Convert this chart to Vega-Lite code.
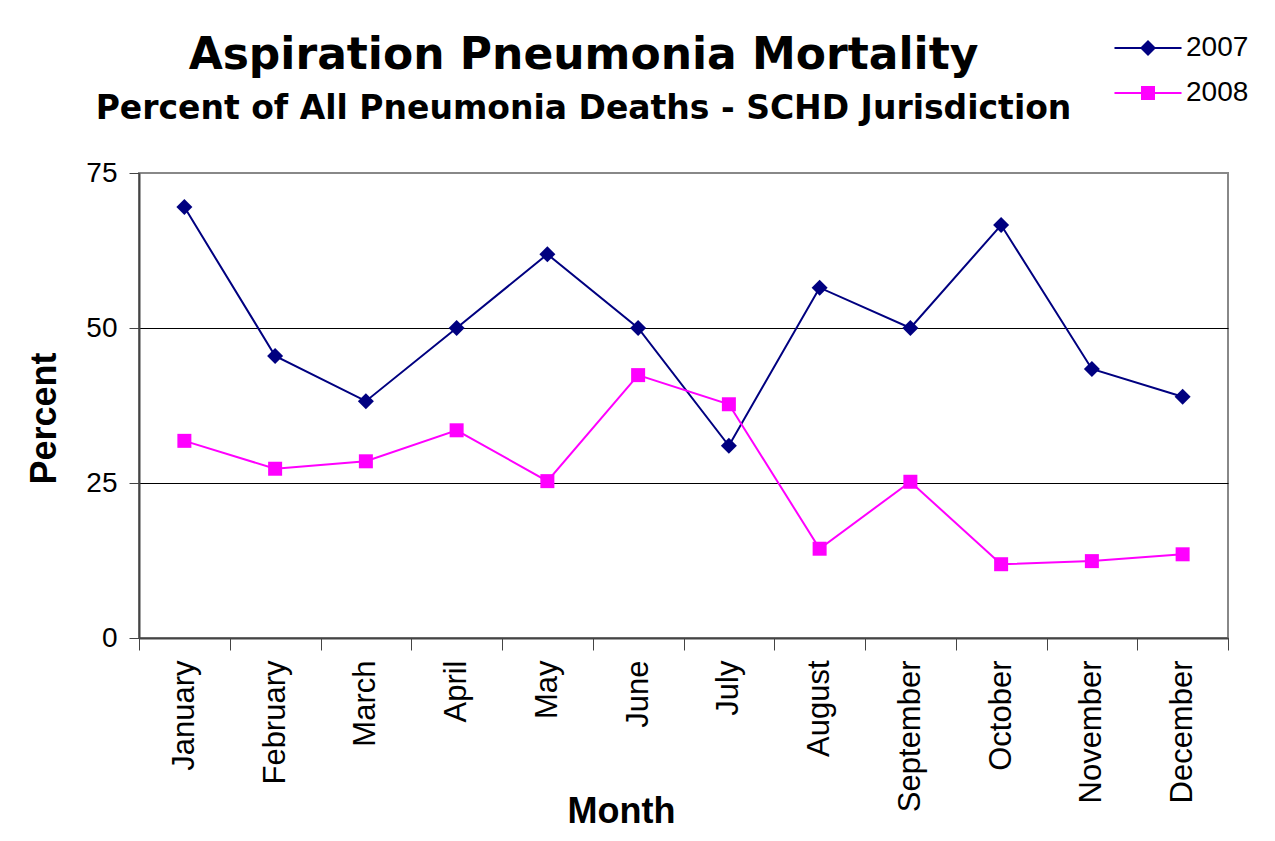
{
  "$schema": "https://vega.github.io/schema/vega-lite/v6.json",
  "width": 1089,
  "height": 465,
  "autosize": {"type": "none"},
  "padding": {"left": 139, "top": 173, "right": 47, "bottom": 203},
  "background": "white",
  "title": {
    "text": "Aspiration Pneumonia Mortality",
    "subtitle": "Percent of All Pneumonia Deaths - SCHD Jurisdiction",
    "font": "DejaVu Sans",
    "fontSize": 44,
    "fontWeight": "bold",
    "color": "black",
    "subtitleFont": "DejaVu Sans",
    "subtitleFontSize": 33,
    "subtitleFontWeight": "bold",
    "subtitleColor": "black",
    "subtitlePadding": 15,
    "anchor": "middle",
    "frame": "group",
    "dx": -100,
    "offset": -92
  },
  "config": {
    "view": {"stroke": "#888888", "strokeWidth": 2},
    "axis": {"labelFont": "Liberation Sans", "titleFont": "Liberation Sans", "labelColor": "black", "titleColor": "black"}
  },
  "data": {
    "values": [
      {"month": "January", "year": "2007", "percent": 69.5},
      {"month": "February", "year": "2007", "percent": 45.5},
      {"month": "March", "year": "2007", "percent": 38.2},
      {"month": "April", "year": "2007", "percent": 50},
      {"month": "May", "year": "2007", "percent": 61.9},
      {"month": "June", "year": "2007", "percent": 50},
      {"month": "July", "year": "2007", "percent": 31},
      {"month": "August", "year": "2007", "percent": 56.5},
      {"month": "September", "year": "2007", "percent": 50},
      {"month": "October", "year": "2007", "percent": 66.6},
      {"month": "November", "year": "2007", "percent": 43.4},
      {"month": "December", "year": "2007", "percent": 38.9},
      {"month": "January", "year": "2008", "percent": 31.8},
      {"month": "February", "year": "2008", "percent": 27.3},
      {"month": "March", "year": "2008", "percent": 28.5},
      {"month": "April", "year": "2008", "percent": 33.5},
      {"month": "May", "year": "2008", "percent": 25.3},
      {"month": "June", "year": "2008", "percent": 42.4},
      {"month": "July", "year": "2008", "percent": 37.7},
      {"month": "August", "year": "2008", "percent": 14.4},
      {"month": "September", "year": "2008", "percent": 25.2},
      {"month": "October", "year": "2008", "percent": 11.9},
      {"month": "November", "year": "2008", "percent": 12.4},
      {"month": "December", "year": "2008", "percent": 13.5}
    ]
  },
  "encoding": {
    "x": {
      "field": "month",
      "type": "nominal",
      "sort": ["January","February","March","April","May","June","July","August","September","October","November","December"],
      "scale": {"paddingInner": 0, "paddingOuter": 0},
      "axis": {
        "title": "Month",
        "titleFontSize": 36,
        "titleFontWeight": "bold",
        "titleX": 482,
        "titleY": 184,
        "titleAlign": "center",
        "titleBaseline": "alphabetic",
        "labelAngle": -90,
        "labelFontSize": 31,
        "labelPadding": 10,
        "tickBand": "extent",
        "tickSize": 12,
        "tickColor": "#444444",
        "domainColor": "#444444",
        "domainWidth": 2,
        "grid": false
      }
    },
    "y": {
      "field": "percent",
      "type": "quantitative",
      "scale": {"domain": [0, 75], "nice": false},
      "axis": {
        "title": "Percent",
        "titleFontSize": 36,
        "titleFontWeight": "bold",
        "titleX": -84,
        "titleY": 245,
        "titleAlign": "center",
        "titleBaseline": "alphabetic",
        "titleAngle": 270,
        "values": [0, 25, 50, 75],
        "labelFontSize": 28,
        "labelPadding": 12,
        "tickSize": 10,
        "tickColor": "#444444",
        "domainColor": "#444444",
        "domainWidth": 2,
        "grid": true,
        "gridColor": {"condition": {"test": "datum.value === 75", "value": "#888888"}, "value": "black"},
        "gridWidth": 1,
        "gridOpacity": 1
      }
    }
  },
  "layer": [
    {
      "mark": {"type": "line", "strokeWidth": 2},
      "encoding": {
        "stroke": {
          "field": "year",
          "type": "nominal",
          "scale": {"domain": ["2007", "2008"], "range": ["#000080", "#FF00FF"]},
          "legend": {
            "title": null,
            "orient": "none",
            "legendX": 995,
            "legendY": -139,
            "padding": 0,
            "labelFont": "Liberation Sans",
            "labelFontSize": 28,
            "labelColor": "black",
            "labelOffset": 24,
            "rowPadding": 17,
            "symbolSize": 256,
            "symbolStrokeWidth": 0,
            "symbolOpacity": 1,
            "symbolType": {"expr": "datum.value === '2007' ? 'M-4.19,-0.125H-0.9V0.125H-4.19ZM0.9,-0.125H4.19V0.125H0.9ZM0,-1L1,0L0,1L-1,0Z' : 'M-4.19,-0.125H-0.8V0.125H-4.19ZM0.8,-0.125H4.19V0.125H0.8ZM-0.875,-0.875H0.875V0.875H-0.875Z'"},
            "symbolFillColor": {"expr": "datum.value === '2007' ? '#000080' : '#FF00FF'"},
            "symbolStrokeColor": {"expr": "datum.value === '2007' ? '#000080' : '#FF00FF'"}
          }
        }
      }
    },
    {
      "transform": [{"filter": "datum.year === '2007'"}],
      "mark": {"type": "point", "shape": "diamond", "size": 256, "filled": true, "opacity": 1, "color": "#000080"}
    },
    {
      "transform": [{"filter": "datum.year === '2008'"}],
      "mark": {"type": "point", "shape": "square", "size": 196, "filled": true, "opacity": 1, "color": "#FF00FF"}
    }
  ]
}
